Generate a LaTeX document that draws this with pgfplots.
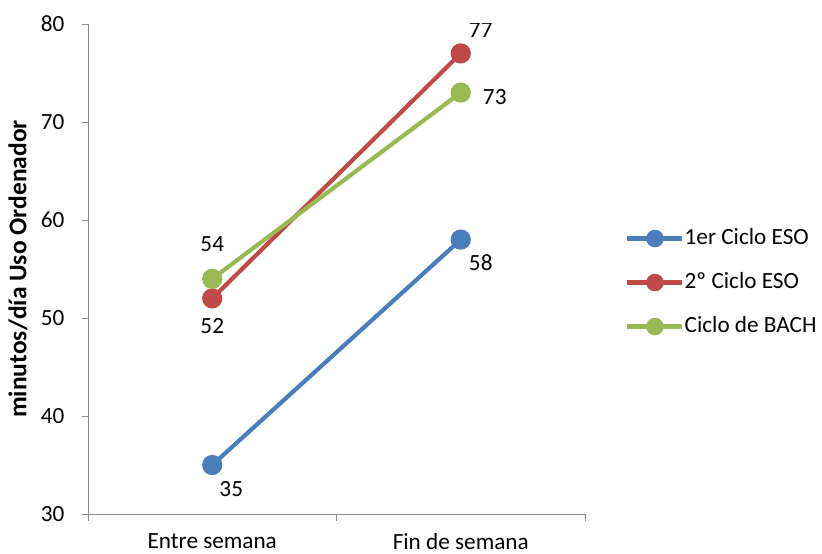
\documentclass[border=0pt]{standalone}
\usepackage{fontspec}
\setmainfont{Carlito}
\usepackage{pgfplots}
\pgfplotsset{compat=1.18}
\definecolor{cblue}{HTML}{4A7EBB}
\definecolor{cred}{HTML}{BE4B48}
\definecolor{cgreen}{HTML}{98B954}
\newcommand{\bigf}{\fontsize{23.2}{27}\selectfont}
\begin{document}
\begin{tikzpicture}[font=\bigf]
\useasboundingbox (-88pt,-40pt) rectangle (734pt,514pt);
\begin{axis}[at={(0,0)}, anchor=south west, scale only axis, width=497pt, height=490pt,
  xmin=-0.5, xmax=1.5, ymin=30, ymax=80,
  axis x line*=bottom, axis y line*=left,
  axis line style={draw=black!45, line width=0.8pt, -},
  /pgf/number format/assume math mode=true,
  xtick={0,1}, xticklabels={Entre semana, Fin de semana},
  major x tick style={draw=none},
  extra x ticks={-0.5,0.5,1.5}, extra x tick labels={},
  extra x tick style={major x tick style={draw=black!45, line width=0.8pt}, major tick length=7pt},
  ytick={30,40,...,80},
  tick align=outside, major tick length=6pt,
  y tick style={draw=black!45, line width=0.8pt},
  tick label style={font=\bigf, text=black},
  xticklabel style={yshift=-10pt},
  yticklabel style={xshift=-14pt},
  every axis y label/.style={at={(axis description cs:-0.141,0.5)}, rotate=90, anchor=center, font=\fontsize{25.5}{29}\selectfont\bfseries},
  ylabel={minutos/día Uso Ordenador},
  legend style={at={(axis description cs:1.0805,0.584)}, anchor=north west, draw=none, fill=none,
    font=\bigf, row sep=23pt, inner sep=0pt,
    nodes={text height=16pt, text depth=5pt, inner sep=0pt},
    /tikz/every even column/.append style={column sep=0pt}},
  legend cell align=left,
  legend image code/.code={\draw[#1, line width=4.5pt, mark size=6.5pt, mark repeat=2, mark phase=2] plot coordinates {(0pt,0pt) (27.5pt,0pt) (55pt,0pt)};},
  every axis plot/.append style={line width=4.2pt, mark=*, mark size=8pt, mark options={solid}},
]
\addplot[cblue] coordinates {(0,35) (1,58)};
\addlegendentry{1er Ciclo ESO}
\addplot[cred] coordinates {(0,52) (1,77)};
\addlegendentry{2º Ciclo ESO}
\addplot[cgreen] coordinates {(0,54) (1,73)};
\addlegendentry{Ciclo de BACH}
\node at (axis cs:0,35) [xshift=19pt, yshift=-24pt] {35};
\node at (axis cs:0,52) [xshift=0pt, yshift=-28pt] {52};
\node at (axis cs:0,54) [xshift=0pt, yshift=35pt] {54};
\node at (axis cs:1,58) [xshift=20pt, yshift=-23pt] {58};
\node at (axis cs:1,77) [xshift=20pt, yshift=23pt] {77};
\node at (axis cs:1,73) [xshift=34pt, yshift=-4pt] {73};
\end{axis}
\end{tikzpicture}
\end{document}
